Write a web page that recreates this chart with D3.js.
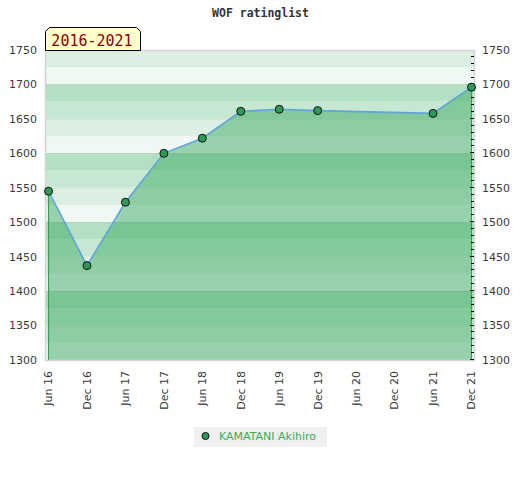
<!DOCTYPE html>
<html>
  <head>
    <meta http-equiv="Content-Type" content="text/html;charset=utf-8"/>
    <title>WOF ratinglist</title>
    <script src="https://d3js.org/d3.v7.min.js"></script>
    <style>
      body { margin: 0; background: #fff; }
      #content { position: relative; }
    </style>
  </head>
  <body>
    <div id="content"></div>
    <script type="text/javascript">

        const chartTitle = 'WOF ratinglist'
        const periodLabel = '2016-2021'
        const playerName = 'KAMATANI Akihiro'

        const periods = ['Jun 16', 'Dec 16', 'Jun 17', 'Dec 17', 'Jun 18', 'Dec 18',
                         'Jun 19', 'Dec 19', 'Jun 20', 'Dec 20', 'Jun 21', 'Dec 21']
        // no rating published for Jun 20 / Dec 20
        const ratings = [1545, 1437, 1529, 1600, 1622, 1661, 1664, 1662, null, null, 1658, 1696]

        const yTicks = [1300, 1350, 1400, 1450, 1500, 1550, 1600, 1650, 1700, 1750]
        const bandStep = 25
        const minorStep = 10

        const bandColors = ['#b3dfc3', '#c6e7d1', '#dcefe3', '#eff8f2']

        const width = 520,
            height = 480,
            plotLeft = 45,
            plotRight = 475,
            plotTop = 50,
            plotBottom = 360

        const svg = d3.select('#content').append('svg')
            .attr('width', width)
            .attr('height', height)
            .style('font-family', '"DejaVu Sans", sans-serif')

        const xScale = d3.scalePoint()
            .domain(periods)
            .range([48.5, 471.5])

        const yScale = d3.scaleLinear()
            .domain([yTicks[0], yTicks[yTicks.length - 1]])
            .range([plotBottom, plotTop])

        // background bands
        const bands = d3.range(yTicks[0], yTicks[yTicks.length - 1], bandStep)
        svg.append('g').selectAll('rect')
            .data(bands)
            .enter()
            .append('rect')
            .attr('x', plotLeft)
            .attr('width', plotRight - plotLeft)
            .attr('y', d => yScale(d + bandStep))
            .attr('height', d => yScale(d) - yScale(d + bandStep))
            .style('fill', d => bandColors[3 - ((d - yTicks[0]) / bandStep) % 4])

        // grid lines
        svg.append('g').selectAll('line')
            .data(yTicks.slice(1, -1))
            .enter()
            .append('line')
            .attr('x1', plotLeft).attr('x2', plotRight)
            .attr('y1', d => Math.round(yScale(d)) + 0.5)
            .attr('y2', d => Math.round(yScale(d)) + 0.5)
            .style('stroke', '#8c8c8c')
            .style('stroke-opacity', d => d % 100 === 0 ? 0.3 : 0.12)

        const points = periods
            .map((p, i) => ({ period: p, rating: ratings[i] }))
            .filter(d => d.rating !== null)

        // filled area
        const area = d3.area()
            .x(d => xScale(d.period))
            .y0(yScale(yTicks[0]))
            .y1(d => yScale(d.rating))

        svg.append('path')
            .datum(points)
            .attr('d', area)
            .style('fill', 'rgb(55, 168, 94)')
            .style('fill-opacity', 0.47)

        // green edges of the area
        const first = points[0], last = points[points.length - 1]
        svg.append('g').selectAll('line')
            .data([first, last])
            .enter()
            .append('line')
            .attr('x1', d => xScale(d.period)).attr('x2', d => xScale(d.period))
            .attr('y1', d => yScale(d.rating)).attr('y2', yScale(yTicks[0]))
            .style('stroke', '#2fa34f')
            .style('stroke-width', 1.2)

        // plot border
        svg.append('rect')
            .attr('x', plotLeft + 0.5)
            .attr('y', plotTop + 0.5)
            .attr('width', plotRight - plotLeft - 1)
            .attr('height', plotBottom - plotTop)
            .style('fill', 'none')
            .style('stroke', '#d4d4d4')
            .style('stroke-width', 1.5)

        // rating line
        const line = d3.line()
            .x(d => xScale(d.period))
            .y(d => yScale(d.rating))

        svg.append('path')
            .datum(points)
            .attr('d', line)
            .style('fill', 'none')
            .style('stroke', '#5ea6da')
            .style('stroke-width', 1.6)

        // right axis ticks
        const minorTicks = d3.range(yTicks[0], yTicks[yTicks.length - 1], minorStep)
        svg.append('g').selectAll('line')
            .data(minorTicks)
            .enter()
            .append('line')
            .attr('x1', d => d % 50 === 0 ? 470 : 471)
            .attr('x2', 474)
            .attr('y1', d => Math.round(yScale(d)) - 0.5)
            .attr('y2', d => Math.round(yScale(d)) - 0.5)
            .style('stroke', '#000')
            .style('stroke-width', 1)

        // markers
        svg.append('g').selectAll('circle')
            .data(points)
            .enter()
            .append('circle')
            .attr('cx', d => xScale(d.period))
            .attr('cy', d => yScale(d.rating))
            .attr('r', 4)
            .style('fill', '#2f9a57')
            .style('stroke', '#111')
            .style('stroke-width', 1)

        // y axis labels, both sides
        const yLabels = svg.append('g')
            .style('font-size', '11px')
            .style('fill', '#3a3a3a')
        yLabels.selectAll('text.left')
            .data(yTicks)
            .enter()
            .append('text')
            .attr('class', 'left')
            .attr('x', 37)
            .attr('y', d => yScale(d))
            .attr('dy', '0.35em')
            .attr('text-anchor', 'end')
            .text(d => d)
        yLabels.selectAll('text.right')
            .data(yTicks)
            .enter()
            .append('text')
            .attr('class', 'right')
            .attr('x', 482)
            .attr('y', d => yScale(d))
            .attr('dy', '0.35em')
            .attr('text-anchor', 'start')
            .text(d => d)

        // x axis labels
        svg.append('g').selectAll('text')
            .data(periods)
            .enter()
            .append('text')
            .attr('transform', d => 'translate(' + xScale(d) + ',371) rotate(-90)')
            .attr('dy', '0.35em')
            .attr('text-anchor', 'end')
            .style('font-size', '11px')
            .style('fill', '#3a3a3a')
            .text(d => d)

        // title
        svg.append('text')
            .attr('x', 260.5)
            .attr('y', 17)
            .attr('text-anchor', 'middle')
            .style('font-family', '"DejaVu Sans Mono", monospace')
            .style('font-weight', 'bold')
            .style('font-size', '11.5px')
            .style('fill', '#333')
            .text(chartTitle)

        // period tag
        const tx0 = 45.5, tx1 = 140.5, ty0 = 27.5, ty1 = 50.5, cut = 4
        svg.append('path')
            .attr('d', 'M' + tx0 + ',' + ty1 + 'L' + tx0 + ',' + (ty0 + cut) +
                'L' + (tx0 + cut) + ',' + ty0 + 'L' + (tx1 - cut) + ',' + ty0 +
                'L' + tx1 + ',' + (ty0 + cut) + 'L' + tx1 + ',' + ty1 + 'Z')
            .style('fill', '#ffffca')
            .style('stroke', '#000')
            .style('stroke-width', 1)
        svg.append('text')
            .attr('x', 92)
            .attr('y', 46)
            .attr('text-anchor', 'middle')
            .style('font-family', '"DejaVu Sans Mono", monospace')
            .style('font-size', '15px')
            .style('fill', '#8b0000')
            .text(periodLabel)

        // legend
        const legend = svg.append('g')
        legend.append('rect')
            .attr('x', 194)
            .attr('y', 427)
            .attr('width', 133)
            .attr('height', 20)
            .style('fill', '#f0f0f0')
        legend.append('circle')
            .attr('cx', 205.5)
            .attr('cy', 436)
            .attr('r', 3.5)
            .style('fill', '#2f9a57')
            .style('stroke', '#111')
            .style('stroke-width', 1)
        legend.append('text')
            .attr('x', 219)
            .attr('y', 440)
            .style('font-size', '11px')
            .style('fill', '#3aab5f')
            .text(playerName)

    </script>
  </body>
</html>
